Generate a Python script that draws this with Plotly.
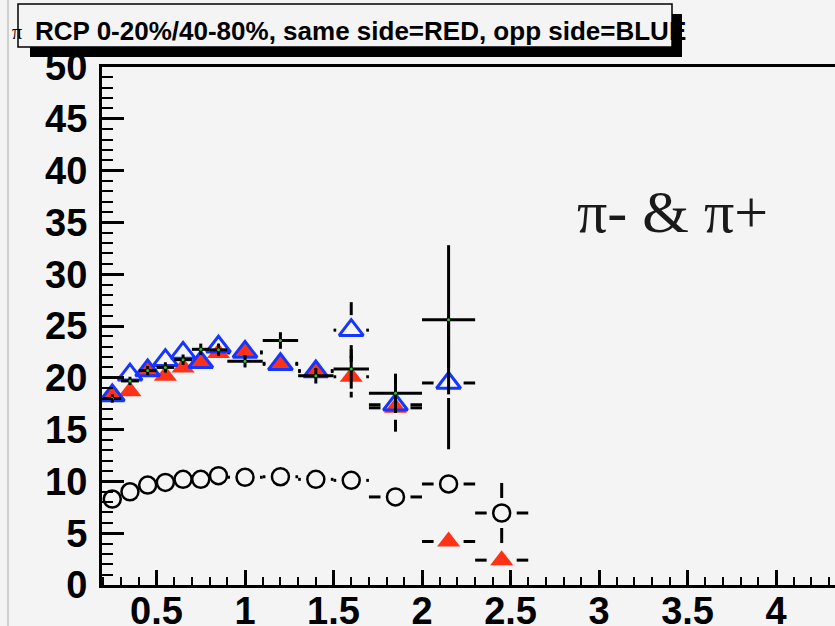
import plotly.graph_objects as go

# ---------------- data ----------------
pt = [0.25, 0.35, 0.45, 0.55, 0.65, 0.75, 0.85, 1.0, 1.2, 1.4, 1.6, 1.85, 2.15, 2.45]
pt_halfbin = [0.05, 0.05, 0.05, 0.05, 0.05, 0.05, 0.05, 0.1, 0.1, 0.1, 0.1, 0.15, 0.15, 0.15]

# black crosses (13 points, up to 2.15)
all_rcp = [18.0, 19.7, 20.7, 21.0, 21.75, 22.75, 22.7, 21.6, 23.6, 20.2, 20.85, 18.5, 25.6]
all_err = [0.4, 0.4, 0.45, 0.5, 0.5, 0.55, 0.6, 0.6, 0.8, 0.75, 1.9, 1.9, 7.2]

# same side = RED (14 points)
same_rcp = [18.3, 18.7, 20.6, 20.2, 21.0, 21.5, 22.4, 22.4, 21.4, 20.7, 20.1, 17.1, 4.2, 2.4]
same_err = [0.6, 0.6, 0.6, 0.6, 0.7, 0.7, 0.8, 0.8, 1.0, 1.1, 2.0, 2.2, 1.0, 0.8]

# opp side = BLUE (13 points)
opp_rcp = [18.3, 20.3, 20.7, 21.7, 22.4, 21.5, 23.0, 22.5, 21.3, 20.6, 24.6, 17.4, 19.5]
opp_err = [0.6, 0.6, 0.7, 0.7, 0.8, 0.8, 0.9, 0.9, 1.2, 1.3, 2.7, 2.6, 6.4]

# open circles (14 points)
circ_rcp = [8.3, 9.0, 9.65, 9.9, 10.2, 10.2, 10.55, 10.4, 10.45, 10.2, 10.1, 8.5, 9.75, 6.95]
circ_err = [0.3, 0.3, 0.3, 0.3, 0.3, 0.3, 0.3, 0.4, 0.4, 0.5, 0.6, 0.9, 1.2, 2.9]

y_ticks = [0, 5, 10, 15, 20, 25, 30, 35, 40, 45, 50]

# ---------------- geometry ----------------
W, H = 835, 626
ML, MR, MT, MB = 102, 0, 67, 41
XR = [0.192, 4.333]
YR = [0, 50]
PW, PH = W - ML - MR, H - MT - MB
GAP_PX = 15
gx = GAP_PX * (XR[1] - XR[0]) / PW
gy = GAP_PX * (YR[1] - YR[0]) / PH


def segs(xs, ys, exs, eys, gapx, gapy):
    X, Y = [], []
    for x, y, ex, ey in zip(xs, ys, exs, eys):
        if gapx == 0:
            X += [x - ex, x + ex, None]
            Y += [y, y, None]
        elif ex > gapx:
            X += [x - ex, x - gapx, None, x + gapx, x + ex, None]
            Y += [y, y, None, y, y, None]
        if gapy == 0:
            X += [x, x, None]
            Y += [y - ey, y + ey, None]
        elif ey > gapy:
            X += [x, x, None, x, x, None]
            Y += [y - ey, y - gapy, None, y + gapy, y + ey, None]
    return X, Y


BLUE = "#1436ff"
RED = "#ff3218"

fig = go.Figure()


def add_series(ys, errs, gapx, gapy, marker):
    n = len(ys)
    X, Y = segs(pt[:n], ys, pt_halfbin[:n], errs, gapx, gapy)
    fig.add_trace(go.Scatter(x=X, y=Y, mode="lines", line=dict(color="black", width=3),
                             hoverinfo="skip", showlegend=False))
    if marker is not None:
        fig.add_trace(go.Scatter(x=pt[:n], y=ys, mode="markers", marker=marker,
                                 showlegend=False))


add_series(circ_rcp, circ_err, gx, gy,
           dict(symbol="circle-open", size=17, color="black", line=dict(width=2.5, color="black")))
add_series(same_rcp, same_err, gx, gy,
           dict(symbol="triangle-up", size=20, color=RED, line=dict(width=0)))
add_series(opp_rcp, opp_err, gx, gy,
           dict(symbol="triangle-up-open", size=21, color=BLUE, line=dict(width=3, color=BLUE)))
add_series(all_rcp, all_err, 0, 0,
           dict(symbol="circle", size=3, color="#22cc22", line=dict(width=0)))

BG = "#f4f4f4"
tickfont = dict(family="Liberation Sans, Arial, sans-serif", size=38, color="black", weight="bold")

fig.update_layout(
    width=W, height=H,
    margin=dict(l=ML, r=MR, t=MT, b=MB, pad=0),
    paper_bgcolor=BG, plot_bgcolor=BG,
    showlegend=False,
    xaxis=dict(range=XR, showgrid=False, zeroline=False, showline=True, linecolor="black",
               linewidth=3, mirror=True, ticks="inside", ticklen=15, tickwidth=2.5,
               tickcolor="black", tick0=0, dtick=0.5, tickfont=tickfont, automargin=False,
               ticklabelstandoff=-10,
               minor=dict(ticks="inside", ticklen=8, tickwidth=2, tickcolor="black", dtick=0.1)),
    yaxis=dict(range=YR, showgrid=False, zeroline=False, showline=True, linecolor="black",
               linewidth=3, mirror=False, ticks="inside", ticklen=22, tickwidth=2.5,
               tickcolor="black", tickvals=y_ticks, tickfont=tickfont, automargin=False,
               ticklabelstandoff=4,
               minor=dict(ticks="inside", ticklen=11, tickwidth=2, tickcolor="black", dtick=1)),
)


def px_x(p):
    return (p - ML) / PW


def px_y(p):
    return (H - MB - p) / PH


shapes = [
    dict(type="line", xref="paper", yref="paper", x0=px_x(8), x1=px_x(8), y0=px_y(0), y1=px_y(H),
         line=dict(color="#c4c4c4", width=1.5), layer="above"),
    dict(type="rect", xref="paper", yref="paper", x0=px_x(30), x1=px_x(682), y0=px_y(57), y1=px_y(14),
         fillcolor="black", line=dict(width=0), layer="above"),
    dict(type="rect", xref="paper", yref="paper", x0=px_x(18), x1=px_x(672), y0=px_y(47), y1=px_y(4),
         fillcolor=BG, line=dict(color="black", width=1.5), layer="above"),
]
fig.update_layout(shapes=shapes)

fig.add_annotation(xref="paper", yref="paper", x=px_x(33), y=px_y(31), xanchor="left", yanchor="middle",
                   text="RCP 0-20%/40-80%, same side=RED, opp side=BLUE", showarrow=False,
                   font=dict(family="Liberation Sans, Arial, sans-serif", size=26, color="black", weight="bold"))
fig.add_annotation(xref="paper", yref="paper", x=px_x(17), y=px_y(32), xanchor="center", yanchor="middle",
                   text="π", showarrow=False,
                   font=dict(family="Liberation Serif, serif", size=20, color="black"))
# shadow right strip drawn over the text overflow
fig.add_annotation(xref="paper", yref="paper", x=px_x(672), y=px_y(14), xanchor="left", yanchor="top",
                   text=" ", showarrow=False, width=10, height=33, bgcolor="black", borderpad=0,
                   borderwidth=0, font=dict(size=2))
fig.add_annotation(xref="paper", yref="paper", x=px_x(672), y=px_y(212), xanchor="center", yanchor="middle",
                   text="π- & π+", showarrow=False,
                   font=dict(family="Liberation Serif, serif", size=60, color="#1a1a1a"))

fig.write_html("out.html")
